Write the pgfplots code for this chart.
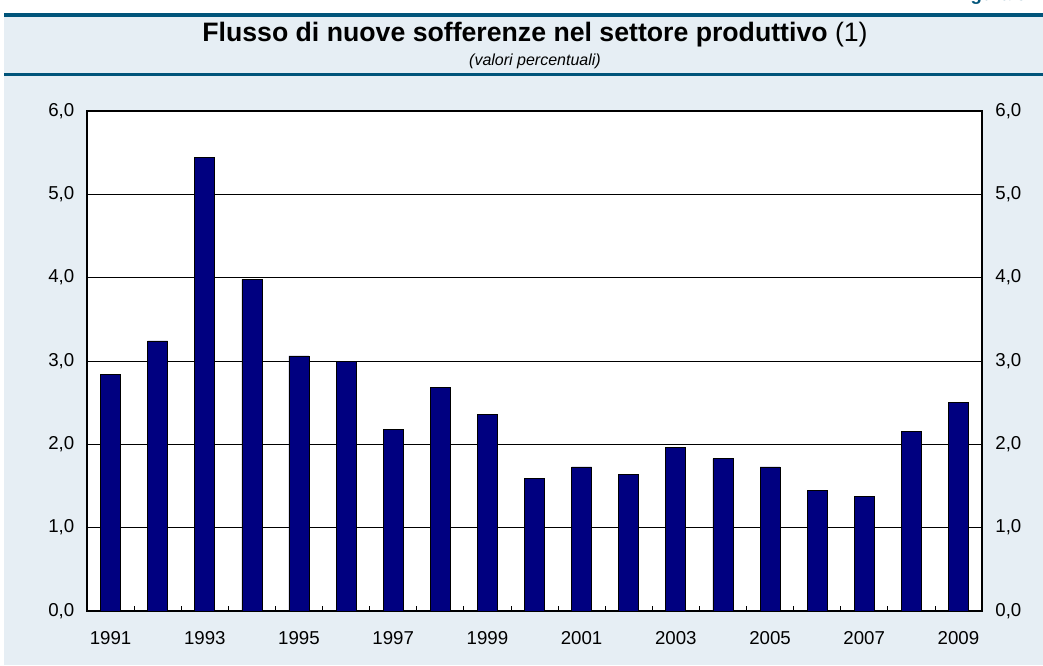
\documentclass[border=0pt]{standalone}
\usepackage{pgfplots}
\pgfplotsset{compat=1.18}
\usepackage{fontspec}
\setmainfont{Liberation Sans}
\definecolor{bgblue}{RGB}{230,238,244}
\definecolor{lineblue}{RGB}{0,84,122}
\definecolor{barblue}{RGB}{0,0,128}
\begin{document}
\begin{tikzpicture}[x=0.75pt,y=0.75pt]
\useasboundingbox (0,0) rectangle (1043,665);
\clip (0,0) rectangle (1043,665);
\fill[white] (0,0) rectangle (1043,665);
\fill[bgblue] (4,0) rectangle (1043,650);
\fill[lineblue] (4,648) rectangle (1043,652);
\fill[lineblue] (4,589) rectangle (1043,592);
\node[anchor=base east, text=lineblue, inner sep=0pt, font=\fontsize{14pt}{16pt}\selectfont\bfseries] at (1027,664) {Figura 9};
\node[anchor=base, inner sep=0pt] at (535,623) {\fontsize{20pt}{23pt}\selectfont\bfseries Flusso di nuove sofferenze nel settore produttivo \mdseries(1)};
\node[anchor=base, inner sep=0pt] at (535,599) {\fontsize{12pt}{14pt}\selectfont\itshape (valori percentuali)};
\pgfplotstableread{
x y
0 2.84
1 3.24
2 5.44
3 3.98
4 3.06
5 2.99
6 2.18
7 2.68
8 2.36
9 1.59
10 1.73
11 1.64
12 1.96
13 1.83
14 1.73
15 1.45
16 1.38
17 2.16
18 2.50
}\datatable
\begin{axis}[
  at={(65.25pt,40.5pt)}, anchor=south west,
  scale only axis, width=671.25pt, height=375pt,
  xmin=-0.5, xmax=18.5, ymin=0, ymax=6,
  axis background/.style={fill=white},
  axis line style={black, line width=1.1pt},
  ytick={0,1,...,6},
  ymajorgrids, grid style={black, line width=0.6pt},
  major tick length=0pt,
  xtick={0,2,...,18},
  xticklabels={1991,1993,1995,1997,1999,2001,2003,2005,2007,2009},
  minor xtick={0.5,1.5,...,17.5},
  minor tick length=3.75pt,
  tick align=inside,
  xtick pos=bottom, ytick pos=left,
  minor tick style={black, line width=0.6pt},
  tick label style={font=\fontsize{14pt}{16pt}\selectfont},
  /pgf/number format/assume math mode=true,
  yticklabel style={/pgf/number format/.cd, fixed, fixed zerofill, precision=1, use comma},
  xticklabel shift=12pt,
  yticklabel shift=6pt,
]
\addplot[ybar, bar width=15pt, fill=barblue, draw=black, line width=0.5pt] table[x=x,y=y] {\datatable};
\end{axis}
\begin{axis}[
  at={(65.25pt,40.5pt)}, anchor=south west,
  scale only axis, width=671.25pt, height=375pt,
  xmin=-0.5, xmax=18.5, ymin=0, ymax=6,
  hide x axis,
  axis y line*=right,
  y axis line style={draw=none},
  ytick={0,1,...,6},
  major tick length=0pt,
  tick label style={font=\fontsize{14pt}{16pt}\selectfont},
  /pgf/number format/assume math mode=true,
  yticklabel style={/pgf/number format/.cd, fixed, fixed zerofill, precision=1, use comma},
  yticklabel shift=6.5pt,
]
\addplot[draw=none] coordinates {(0,0)};
\end{axis}
\end{tikzpicture}
\end{document}
